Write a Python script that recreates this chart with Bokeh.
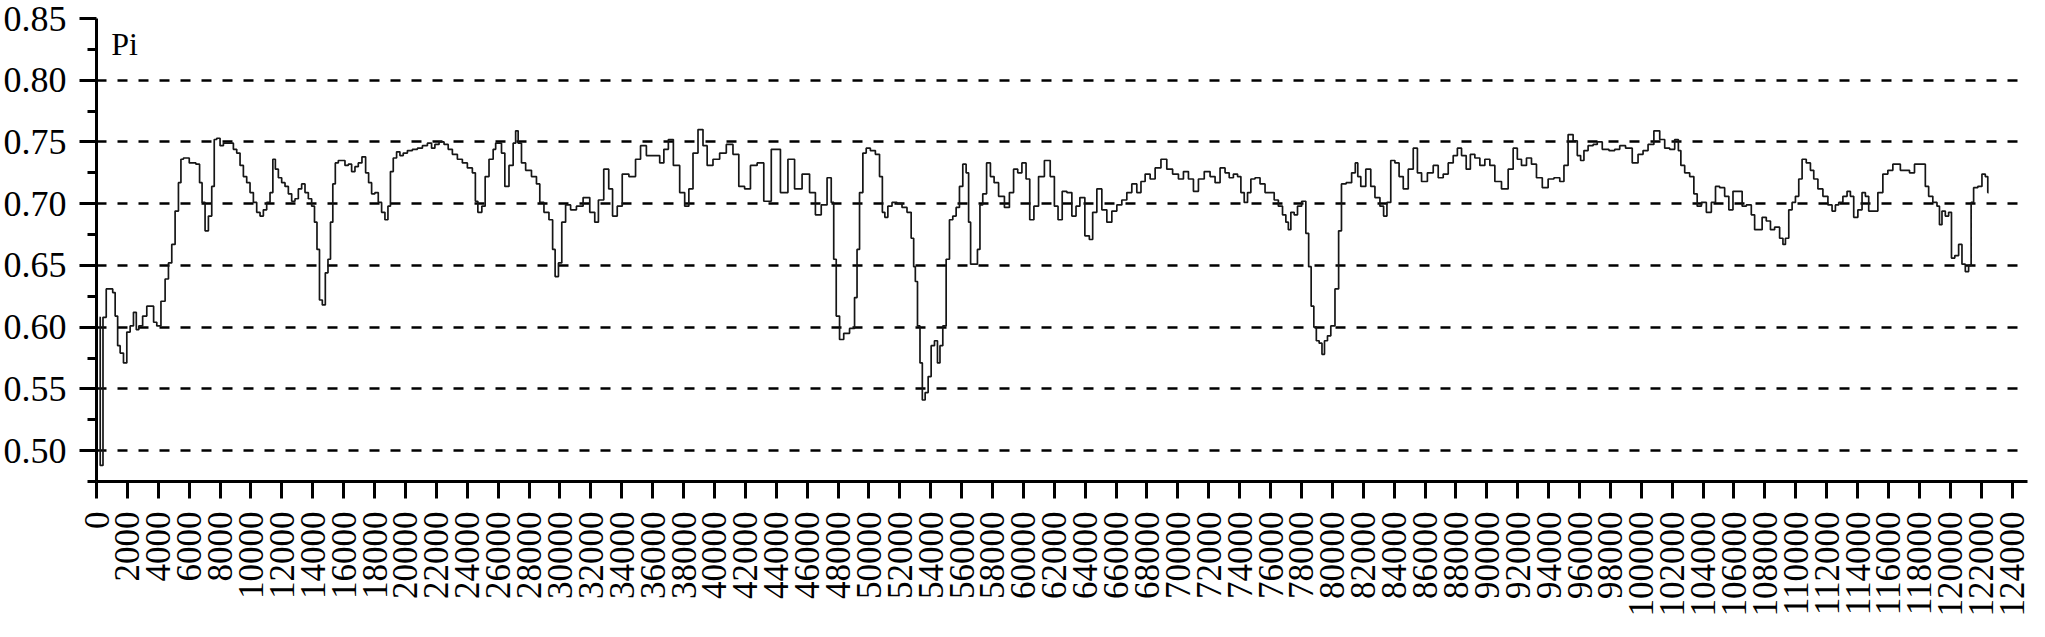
import math
from bokeh.plotting import figure
from bokeh.models import FixedTicker, NumeralTickFormatter, Label, Range1d
from bokeh.embed import file_html
from bokeh.resources import INLINE

# Position along the genome (bp) and nucleotide diversity Pi
pos = [200, 280, 560, 700, 1000,
       1100, 1315, 1423, 1639, 1854, 2070, 2285, 2501, 2652, 2825, 3148, 3363, 3600, 3795, 4010,
       4334, 4549, 4765, 4980, 5196, 5412, 5519, 5735, 6274, 6597, 6748, 6921, 7136, 7352, 7568,
       7675, 7891, 8107, 8322, 8753, 8969, 9185, 9400, 9616, 9831, 10047, 10263, 10478, 10694,
       10909, 11125, 11341, 11492, 11664, 11880, 12095, 12311, 12527, 12742, 12958, 13173, 13389,
       13605, 13820, 14036, 14187, 14359, 14510, 14726, 14898, 15071, 15222, 15373, 15545, 15761,
       15976, 16192, 16408, 16623, 16839, 17054, 17313, 17529, 17701, 17917, 18132, 18348, 18564,
       18779, 18952, 19103, 19318, 19534, 19749, 19965, 20288, 20612, 20935, 21259, 21582, 21797,
       22013, 22336, 22660, 22875, 23199, 23522, 23846, 24169, 24493, 24557, 24816, 25074,
       25247, 25570, 25786, 25893, 26109, 26325, 26540, 26864, 27079, 27187, 27403, 27618, 27942,
       28373, 28588, 28804, 29127, 29451, 29602, 29774, 30033, 30205, 30529, 30852, 31283, 31715,
       32146, 32361, 32620, 33051, 33267, 33547, 33871, 34194, 34733, 35056, 35380, 35811, 36350,
       36566, 36889, 37148, 37536, 37967, 38183, 38506, 38722, 39153, 39368, 39692, 40123, 40554,
       40985, 41417, 41740, 42171, 42495, 43034, 43357, 44004, 44543, 44974, 45405, 45944, 46375,
       46699, 47130, 47454, 47669, 47777, 47993, 48208, 48532, 48963,
       49179, 49286, 49502, 49718, 49933, 50257, 50580, 50796, 50947, 51119, 51335, 51658, 51981,
       52305, 52628, 52844, 52952, 53059, 53232, 53383, 53534, 53749, 53922, 54137, 54353, 54525,
       54676, 54892, 55108, 55323, 55539, 55754, 55970, 56186, 56401, 56509, 56660, 56940, 57113,
       57264, 57479, 57759, 57975, 58234, 58557, 58988, 59204, 59527, 59743, 60066, 60282, 60541,
       60821, 61144, 61576, 61899, 62115, 62373, 62654, 62977, 63300, 63516, 63796, 64163, 64378,
       64594, 64917, 65241, 65564, 65888, 66211, 66534, 66858, 67181, 67505, 67720, 68044, 68367,
       68690, 69122, 69445, 69876, 70200, 70523, 70846, 71170, 71493, 71924, 72248, 72571,
       72894, 73217, 73433, 73756, 73972, 74188, 74403, 74619, 74834, 75158, 75481, 75805, 76128,
       76344, 76667, 76883, 77098, 77206, 77422, 77637, 77853, 78176, 78392, 78543, 78715, 78888,
       79039, 79254, 79405, 79578, 79793, 80009, 80332, 80483, 80699, 81087, 81410, 81561, 81734,
       81949, 82380, 82596, 82919, 83243, 83394, 83674, 83890, 84213, 84429, 84752, 85075, 85399,
       85614, 85938, 86369, 86692, 87016, 87339, 87663, 87986, 88202, 88525, 88805, 89064, 89387,
       89711, 90034, 90358, 90681, 91220, 91543, 91867, 92082, 92406, 92729, 93053, 93376, 93807,
       94131, 94562, 94885, 95101, 95424, 95748, 95963, 96179, 96394, 96718, 97041,
       97257, 97688, 98120, 98443, 98766, 99198, 99629, 99952, 100276, 100599, 101030, 101354,
       101677, 102000, 102324, 102475, 102647, 102971, 103294, 103510, 103725, 104049, 104372,
       104695, 104911, 105234, 105558, 105773, 106097, 106420, 106636, 106959, 107283, 107390,
       107714, 107929, 108253, 108468, 108792, 109115, 109223, 109439, 109654, 109870, 110085,
       110301, 110517, 110840, 111056, 111271, 111595, 111918, 112241, 112457, 112673, 112888,
       113212, 113427, 113643, 113858, 114182, 114397, 114613, 114829, 115152, 115475, 115799,
       116122, 116446, 116661, 116877, 117200, 117524, 117847, 118278, 118494, 118709, 119033,
       119248, 119356, 119572, 119787, 120003, 120154, 120434, 120650, 120866, 121081, 121297,
       121404, 121620, 121944, 122159, 122375, 122483]

pi = [0.608, 0.488, 0.608, 0.631, 0.631,
      0.628, 0.609, 0.585, 0.579, 0.571, 0.596, 0.601, 0.612, 0.598, 0.601, 0.609, 0.617, 0.617, 0.604, 0.601,
      0.621, 0.639, 0.652, 0.667, 0.694, 0.717, 0.736, 0.737, 0.733, 0.732, 0.717, 0.701, 0.678, 0.690, 0.714,
      0.752, 0.753, 0.747, 0.749, 0.749, 0.744, 0.741, 0.731, 0.722, 0.717, 0.709, 0.701, 0.693, 0.690,
      0.695, 0.701, 0.709, 0.736, 0.728, 0.721, 0.717, 0.714, 0.708, 0.702, 0.704, 0.712, 0.716,
      0.709, 0.704, 0.698, 0.685, 0.663, 0.622, 0.618, 0.644, 0.655, 0.685, 0.716, 0.733, 0.735,
      0.735, 0.731, 0.732, 0.726, 0.730, 0.733, 0.738, 0.725, 0.717, 0.708, 0.709, 0.701, 0.693,
      0.687, 0.698, 0.726, 0.737, 0.742, 0.739, 0.741, 0.743, 0.744, 0.745, 0.747, 0.749, 0.745,
      0.748, 0.750, 0.748, 0.744, 0.740, 0.736, 0.733, 0.729, 0.725, 0.702, 0.693, 0.698,
      0.722, 0.736, 0.744, 0.749, 0.749, 0.741, 0.714, 0.731, 0.749, 0.759, 0.749, 0.733, 0.727,
      0.722, 0.716, 0.701, 0.693, 0.687, 0.663, 0.641, 0.652, 0.685, 0.699, 0.695, 0.698, 0.705,
      0.693, 0.685, 0.703, 0.728, 0.712, 0.690, 0.698, 0.724, 0.722, 0.736, 0.747, 0.739, 0.739,
      0.733, 0.744, 0.752, 0.731, 0.709, 0.698, 0.712, 0.741, 0.760, 0.747, 0.731, 0.736, 0.741,
      0.748, 0.740, 0.714, 0.712, 0.731, 0.733, 0.702, 0.744, 0.709, 0.736, 0.712, 0.724, 0.709,
      0.691, 0.699, 0.721, 0.701, 0.655, 0.609, 0.590, 0.595, 0.599,
      0.624, 0.663, 0.709, 0.741, 0.745, 0.743, 0.740, 0.722, 0.693, 0.689, 0.698, 0.701, 0.700,
      0.697, 0.693, 0.672, 0.649, 0.637, 0.601, 0.571, 0.541, 0.547, 0.560, 0.585, 0.589, 0.571,
      0.585, 0.601, 0.655, 0.687, 0.690, 0.697, 0.714, 0.732, 0.725, 0.685, 0.651, 0.651, 0.663,
      0.699, 0.708, 0.733, 0.722, 0.717, 0.706, 0.697, 0.709, 0.728, 0.725, 0.733, 0.720, 0.687,
      0.698, 0.722, 0.735, 0.722, 0.698, 0.687, 0.710, 0.709, 0.690, 0.698, 0.705, 0.674, 0.671,
      0.693, 0.712, 0.695, 0.685, 0.694, 0.699, 0.703, 0.709, 0.716, 0.709, 0.718, 0.724, 0.720,
      0.729, 0.736, 0.728, 0.724, 0.720, 0.726, 0.720, 0.710, 0.720, 0.726, 0.722, 0.717,
      0.729, 0.725, 0.721, 0.724, 0.722, 0.709, 0.701, 0.709, 0.720, 0.721, 0.716, 0.709, 0.709,
      0.703, 0.698, 0.691, 0.685, 0.679, 0.693, 0.691, 0.698, 0.702, 0.676, 0.649, 0.617, 0.600,
      0.589, 0.587, 0.578, 0.589, 0.593, 0.601, 0.631, 0.678, 0.716, 0.717, 0.725, 0.733, 0.722,
      0.714, 0.728, 0.714, 0.705, 0.698, 0.690, 0.701, 0.735, 0.733, 0.722, 0.712, 0.728, 0.745,
      0.725, 0.718, 0.725, 0.731, 0.721, 0.724, 0.733, 0.739, 0.745, 0.739, 0.728, 0.740, 0.737,
      0.731, 0.736, 0.731, 0.718, 0.712, 0.728, 0.745, 0.736, 0.731, 0.737, 0.732, 0.721, 0.713,
      0.720, 0.721, 0.718, 0.731, 0.756, 0.751, 0.739, 0.735, 0.743, 0.747, 0.748,
      0.750, 0.744, 0.743, 0.744, 0.747, 0.745, 0.733, 0.740, 0.743, 0.748, 0.759, 0.752,
      0.745, 0.744, 0.752, 0.743, 0.731, 0.725, 0.722, 0.708, 0.698, 0.701, 0.693,
      0.701, 0.714, 0.713, 0.706, 0.695, 0.710, 0.710, 0.698, 0.699, 0.691, 0.679,
      0.679, 0.689, 0.686, 0.679, 0.681, 0.672, 0.667, 0.672, 0.695, 0.701, 0.706,
      0.720, 0.736, 0.733, 0.727, 0.720, 0.712, 0.706, 0.699, 0.694, 0.699, 0.701,
      0.706, 0.710, 0.706, 0.689, 0.695, 0.709, 0.706, 0.694, 0.694, 0.709, 0.724,
      0.727, 0.732, 0.732, 0.727, 0.727, 0.725, 0.732, 0.732, 0.714, 0.706, 0.701,
      0.698, 0.683, 0.694, 0.690, 0.693, 0.656, 0.658, 0.667, 0.651, 0.645, 0.650,
      0.701, 0.713, 0.714, 0.724, 0.722, 0.709]

y_major = [0.50, 0.55, 0.60, 0.65, 0.70, 0.75, 0.80, 0.85]
y_minor = [0.475, 0.525, 0.575, 0.625, 0.675, 0.725, 0.775, 0.825]
grid_levels = [0.50, 0.55, 0.60, 0.65, 0.70, 0.75, 0.80]
x_ticks = list(range(0, 124001, 2000))
y_title = "Pi"

FONT = "Liberation Serif"

p = figure(width=2035, height=624, output_backend="svg", toolbar_location=None,
           x_range=Range1d(0, 125000), y_range=Range1d(0.475, 0.85),
           min_border_left=95, min_border_right=8, min_border_top=18, min_border_bottom=143)
p.outline_line_color = None
p.background_fill_color = "white"
p.border_fill_color = "white"

p.step(pos, pi, mode="center", line_color="#161616", line_width=1.7)

# axes
p.yaxis.ticker = FixedTicker(ticks=y_major, minor_ticks=y_minor)
p.yaxis.formatter = NumeralTickFormatter(format="0.00")
p.xaxis.ticker = FixedTicker(ticks=x_ticks)
p.xaxis.formatter = NumeralTickFormatter(format="0")
p.xaxis.major_label_orientation = math.pi / 2

for ax in (p.xaxis[0], p.yaxis[0]):
    ax.axis_line_color = "black"
    ax.axis_line_width = 3
    ax.major_tick_line_color = "black"
    ax.major_tick_line_width = 3
    ax.minor_tick_line_color = "black"
    ax.minor_tick_line_width = 3
    ax.major_tick_in = 0
    ax.major_tick_out = 17
    ax.minor_tick_in = 0
    ax.minor_tick_out = 9
    ax.major_label_text_font = FONT
    ax.major_label_text_font_size = "35px"
    ax.major_label_text_color = "black"
    ax.major_label_standoff = 13

p.yaxis.major_label_text_font_size = "36px"
p.xaxis.minor_tick_line_color = None

# grid
p.xgrid.grid_line_color = None
p.ygrid.ticker = FixedTicker(ticks=grid_levels)
p.ygrid.grid_line_color = "black"
p.ygrid.grid_line_width = 2.5
p.ygrid.grid_line_dash = "10 11"

p.add_layout(Label(x=950, y=0.829, text=y_title, text_font=FONT, text_font_size="32px",
                   text_color="black", text_baseline="alphabetic"))

open("out.html", "w").write(file_html(p, INLINE))
